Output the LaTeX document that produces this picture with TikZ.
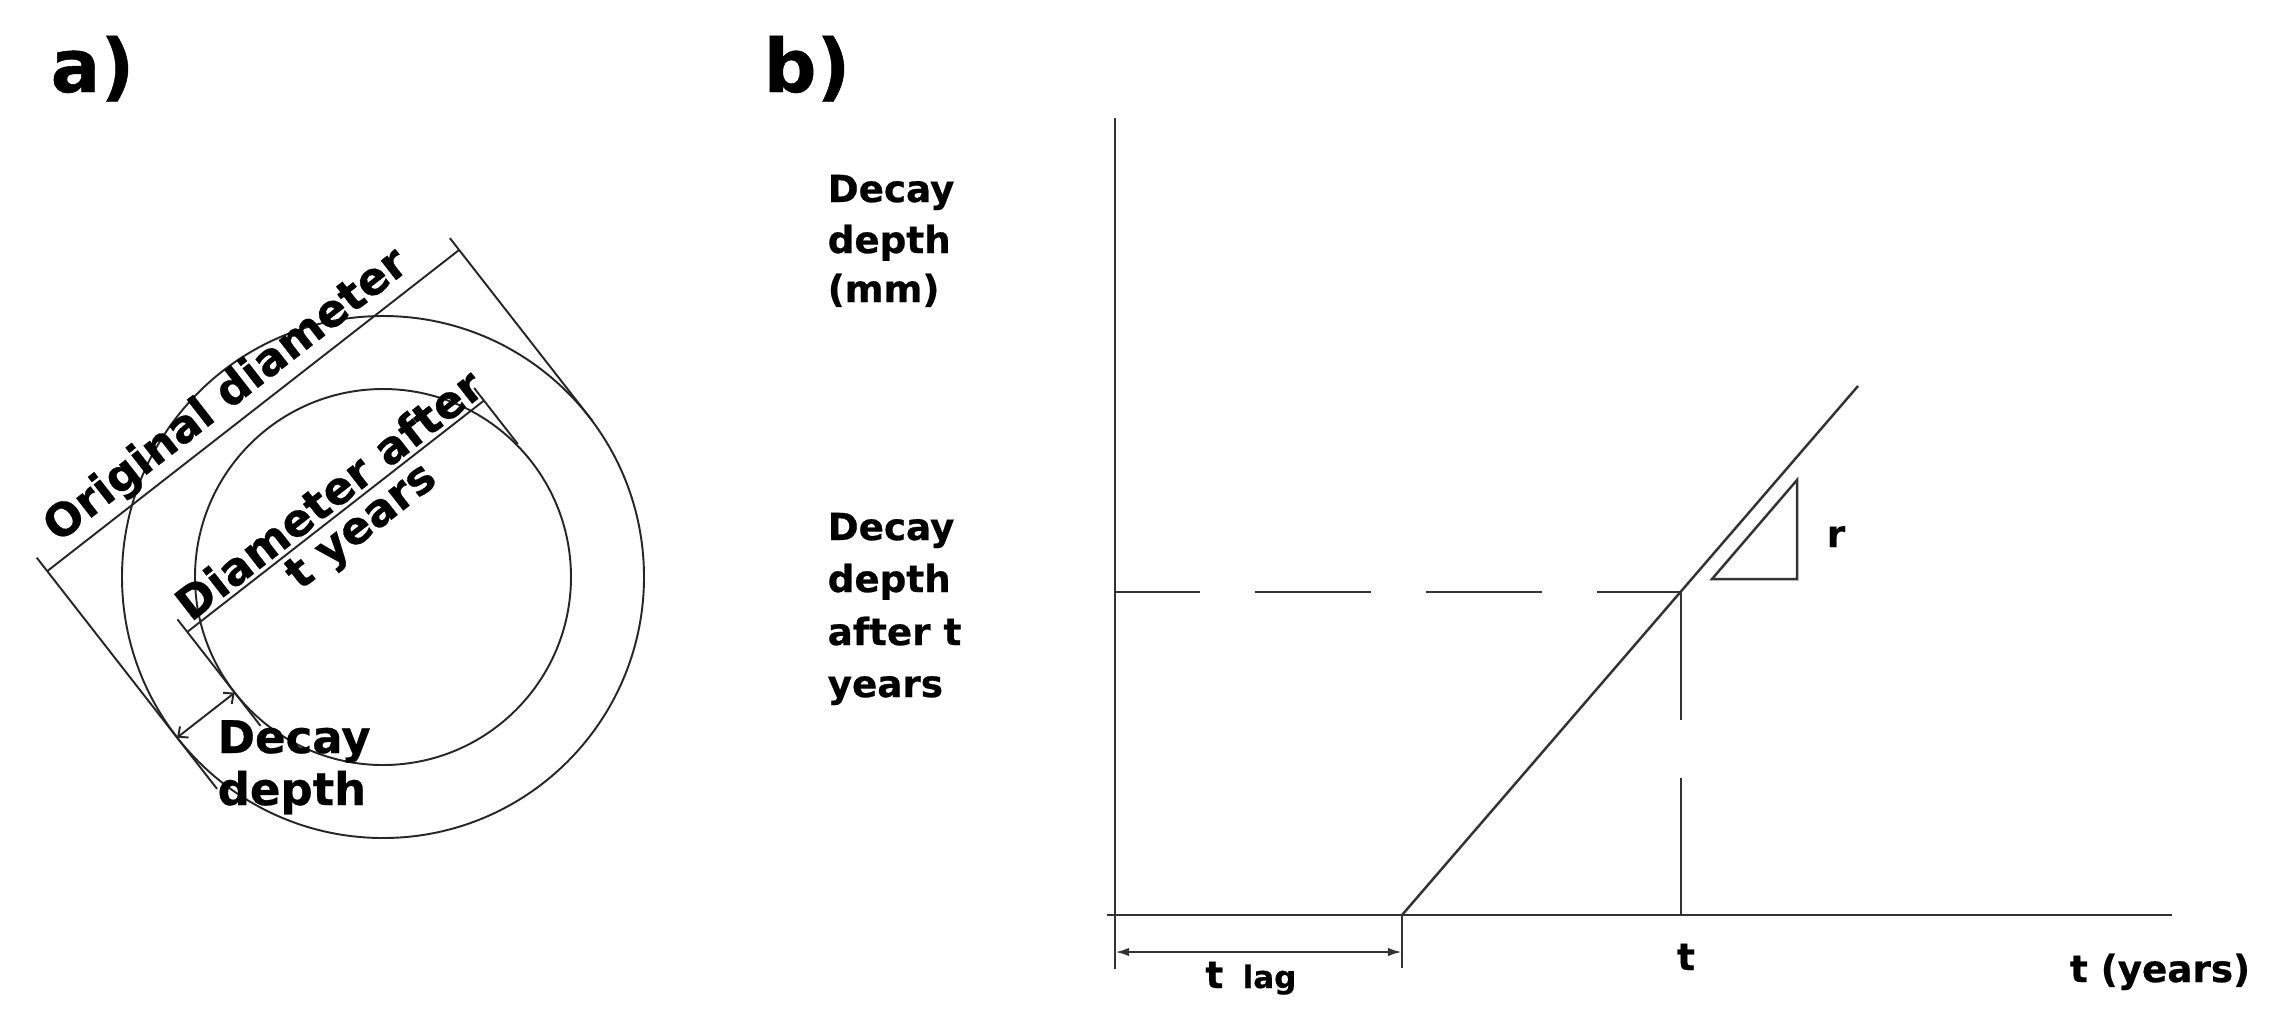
\documentclass[tikz,border=0pt]{standalone}
\usepackage{fontspec}
\setmainfont{DejaVu Sans}[BoldFeatures={FakeBold=0.6}]
\usetikzlibrary{arrows.meta}
\tikzset{
  lna/.style={line width=0.55pt, draw=black!85},
  lnb/.style={line width=0.7pt, draw=black!80},
  txa/.style={font=\bfseries\fontsize{12.8}{15}\selectfont, inner sep=0pt},
  txb/.style={font=\bfseries\fontsize{10.6}{13}\selectfont, inner sep=0pt},
  panel/.style={font=\bfseries\fontsize{21}{24}\selectfont, inner sep=0pt},
}
\begin{document}
\begin{tikzpicture}[x=0.01cm,y=-0.01cm]
\useasboundingbox (0,0) rectangle (2282,1017);
% panel labels
\node[panel, anchor=base west] (la) at (50,92) {a)};
\node[panel, anchor=base west] (lb) at (763,92) {b)};

% ---------- panel a ----------
\coordinate (C) at (383,577);
\draw[lna] (C) circle[radius=261];
\draw[lna] (C) circle[radius=188];
\begin{scope}[shift={(383,577)}, x={(0.078857mm,0.061497mm)}, y={(-0.061497mm,0.078857mm)}]
  \coordinate (oA) at (-261,211);  \coordinate (oB) at (261,211);
  \coordinate (oA1) at (-261,228); \coordinate (oA2) at (-261,-65);
  \coordinate (oB1) at (261,226);  \coordinate (oB2) at (261,-5);
  \coordinate (iA) at (-188,77);   \coordinate (iB) at (188,77);
  \coordinate (iA1) at (-188,93);  \coordinate (iA2) at (-188,-42);
  \coordinate (iB1) at (188,93);   \coordinate (iB2) at (188,22);
  \coordinate (dO) at (-261,0);    \coordinate (dI) at (-188,0);
  \draw[lna] (oA) -- (oB);
  \draw[lna] (oA1) -- (oA2);
  \draw[lna] (oB1) -- (oB2);
  \draw[lna] (iA) -- (iB);
  \draw[lna] (iA1) -- (iA2);
  \draw[lna] (iB1) -- (iB2);
  \draw[lna, {Straight Barb[length=2.2pt,width=4pt]}-{Straight Barb[length=2.2pt,width=4pt]}] (dO) -- (dI);
  \node[txa, rotate=37.95, anchor=base] (od) at (-12,226) {Original diameter};
  \node[txa, rotate=37.95, anchor=base] (da1) at (8,82) {Diameter after};
  \node[txa, rotate=37.95, anchor=base] (da2) at (14,40) {t years};
\end{scope}
\node[txa, anchor=base west] (dd1) at (217,753) {Decay};
\node[txa, anchor=base west] (dd2) at (217,805) {depth};

% ---------- panel b ----------
\coordinate (Ytop) at (1115,118);
\coordinate (Ybot) at (1115,969);
\coordinate (Xl) at (1107,915);
\coordinate (Xr) at (2172,915);
\coordinate (L) at (1402,915);
\coordinate (Lb) at (1402,968);
\coordinate (La) at (1115,952);
\coordinate (Lc) at (1402,952);
\coordinate (S) at (1858,386);
\coordinate (P) at (1681,592);
\coordinate (Py) at (1115,592);
\coordinate (Px) at (1681,915);
\coordinate (T1) at (1712,579);
\coordinate (T2) at (1797,480);
\coordinate (T3) at (1797,579);
\draw[lnb] (Ytop) -- (Ybot);
\draw[lnb] (Xl) -- (Xr);
\draw[lnb] (L) -- (Lb);
\draw[lnb, {Latex[length=4pt,width=2.4pt]}-{Latex[length=4pt,width=2.4pt]}] (La) -- (Lc);
\draw[lnb] (L) -- (S);
\draw[lnb, dash pattern=on 33pt off 15.65pt, dash phase=8.8pt] (Py) -- (P);
\draw[lnb, dash pattern=on 36.4pt off 16.5pt on 60pt off 0pt] (P) -- (Px);
\draw[lnb] (T1) -- (T2) -- (T3) -- cycle;

\node[txb, anchor=base west] (y1) at (827,202) {Decay};
\node[txb, anchor=base west] (y2) at (827,253) {depth};
\node[txb, anchor=base west] (y3) at (827,302) {(mm)};
\node[txb, anchor=base west] (h1) at (827,540) {Decay};
\node[txb, anchor=base west] (h2) at (827,592) {depth};
\node[txb, anchor=base west] (h3) at (827,645) {after t};
\node[txb, anchor=base west] (h4) at (827,697) {years};
\node[txb, anchor=base] (rr) at (1836,547) {r};
\node[txb, anchor=base] (tt) at (1686,970) {t};
\node[txb, anchor=base] (ty) at (2160,982) {t (years)};
\node[txb, anchor=base east] (tl1) at (1224,988) {t};
\node[font=\bfseries\fontsize{8.8}{10}\selectfont, inner sep=0pt, anchor=base west] (tl2) at (1242,988) {lag};
\end{tikzpicture}
\end{document}
